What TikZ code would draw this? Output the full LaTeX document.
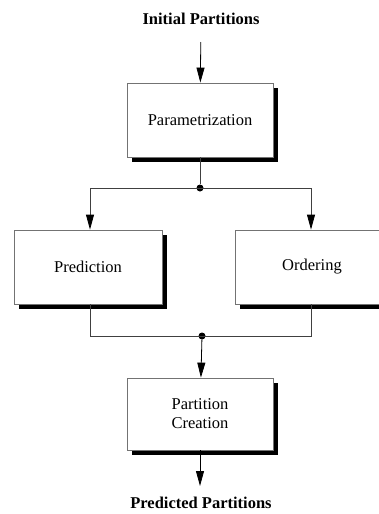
\documentclass[tikz,border=0pt]{standalone}
\usepackage{fontspec}
\setmainfont{Liberation Serif}
\usetikzlibrary{arrows.meta,shadows}

\begin{document}
\begin{tikzpicture}[x=1pt, y=-1pt,
    font=\fontsize{16.5}{19}\selectfont,
    blocco/.style={draw=black!55, line width=0.8pt, fill=white, align=center,
                   minimum width=146pt, minimum height=74pt, inner sep=0pt,
                   drop shadow={shadow xshift=4.5pt, shadow yshift=-4.5pt, fill=black, opacity=1}},
    titolo/.style={font=\fontsize{16.5}{19}\selectfont\bfseries, inner sep=0pt},
    freccia/.style={-{Triangle[length=15pt, width=8pt, color=black]}, line width=0.8pt},
    linea/.style={line width=0.8pt, draw=black!75},
    punto/.style={circle, fill=black, inner sep=0pt, minimum size=7pt}]
    \useasboundingbox (0,0) rectangle (378,514);

    % Creazione dei blocchi
    \node[titolo] (ingresso) at (201,19) {Initial Partitions};
    \node[blocco] (param) at (200,120) {Parametrization};
    \node[blocco, minimum width=148pt] (pred) at (88,267) {Prediction};
    \node[blocco, minimum width=154pt] (ord) at (312,267) {Ordering};
    \node[blocco, minimum height=72pt] (crea) at (200,414) {Partition\\Creation};
    \node[titolo] (uscita) at (201,503) {Predicted Partitions};

    % Nodi di giunzione
    \node[punto] (g1) at (200,188) {};
    \node[punto] (g2) at (202,336) {};

    % Traccia il percorso
    \draw[freccia, shorten <=17pt] (ingresso) -- (param);           % ingresso -> param
    \draw[linea] (param) -- (g1);                                   % param -> giunzione
    \draw[linea, freccia] (g1.center) -| (pred.north -| 90,0);      % giunzione -> pred
    \draw[linea, freccia] (g1.center) -| (ord.north -| 311,0);      % giunzione -> ord

    % Poi il percorso si ricongiunge
    \draw[linea] (pred.south -| 90,0) |- (g2.center);               % pred -> giunzione
    \draw[linea] (ord.south -| 311,0) |- (g2.center);               % ord -> giunzione
    \draw[freccia] (g2) -- (crea);                                  % giunzione -> crea
    \draw[freccia, shorten >=11pt] (crea) -- (crea |- uscita.north); % crea -> uscita
\end{tikzpicture}
\end{document}
